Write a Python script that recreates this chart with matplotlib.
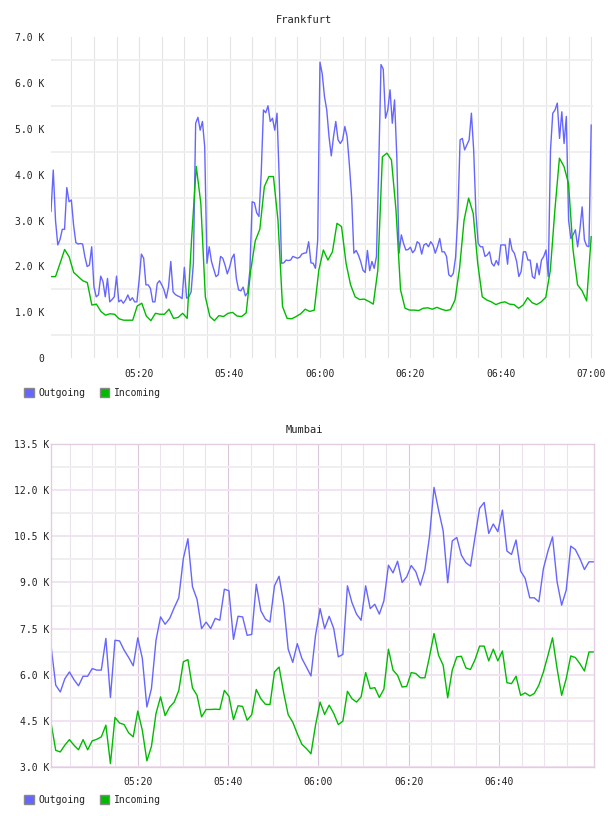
import numpy as np
import matplotlib
matplotlib.use('Agg')
import matplotlib.pyplot as plt
from matplotlib.patches import Patch

# minutes after 05:00
time_ticks = [20, 40, 60, 80, 100, 120]
time_labels = ['05:20', '05:40', '06:00', '06:20', '06:40', '07:00']

# Frankfurt, K per sample (outgoing every 30 s, incoming every minute)
fra_out = [
    3.2, 4.1, 3.0, 2.47, 2.59, 2.81, 2.81, 3.72, 3.41, 3.45,
    2.90, 2.52, 2.49, 2.50, 2.49, 2.21, 2.00, 2.03, 2.43, 1.56,
    1.34, 1.38, 1.79, 1.67, 1.34, 1.74, 1.23, 1.28, 1.34, 1.79,
    1.23, 1.27, 1.20, 1.27, 1.38, 1.26, 1.32, 1.23, 1.23, 1.71,
    2.27, 2.18, 1.60, 1.60, 1.52, 1.23, 1.23, 1.63, 1.69, 1.60,
    1.49, 1.31, 1.56, 2.11, 1.45, 1.39, 1.36, 1.34, 1.30, 1.98,
    1.31, 1.34, 1.45, 2.07, 5.12, 5.25, 4.97, 5.16, 4.61, 2.07,
    2.43, 2.11, 1.94, 1.78, 1.82, 2.22, 2.18, 2.03, 1.84, 1.98,
    2.18, 2.27, 1.74, 1.49, 1.47, 1.55, 1.36, 1.43, 1.92, 3.41,
    3.39, 3.17, 3.09, 4.03, 5.41, 5.35, 5.50, 5.16, 5.23, 4.97,
    5.34, 3.88, 2.07, 2.08, 2.14, 2.13, 2.14, 2.22, 2.20, 2.18,
    2.20, 2.27, 2.29, 2.30, 2.54, 2.08, 2.07, 1.96, 2.58, 6.45,
    6.20, 5.70, 5.41, 4.83, 4.41, 4.83, 5.16, 4.76, 4.68, 4.76,
    5.05, 4.83, 4.23, 3.52, 2.29, 2.35, 2.25, 2.11, 1.92, 1.87,
    2.35, 1.91, 2.11, 1.96, 2.22, 4.18, 6.40, 6.30, 5.23, 5.41,
    5.85, 5.12, 5.63, 4.39, 2.29, 2.69, 2.50, 2.36, 2.37, 2.42,
    2.30, 2.36, 2.54, 2.50, 2.27, 2.47, 2.50, 2.43, 2.54, 2.47,
    2.29, 2.43, 2.61, 2.32, 2.32, 2.22, 1.82, 1.78, 1.85, 2.20,
    3.09, 4.76, 4.79, 4.54, 4.65, 4.76, 5.34, 4.54, 3.16, 2.50,
    2.43, 2.43, 2.22, 2.25, 2.32, 2.07, 2.01, 2.13, 2.03, 2.47,
    2.47, 2.47, 2.05, 2.61, 2.36, 2.29, 2.11, 1.78, 1.89, 2.32,
    2.32, 2.14, 2.14, 1.78, 1.74, 2.07, 1.82, 2.14, 2.22, 2.36,
    1.78, 4.54, 5.34, 5.41, 5.56, 4.79, 5.37, 4.68, 5.27, 3.01,
    2.61, 2.69, 2.80, 2.43, 2.80, 3.30, 2.58, 2.45, 2.43, 5.08,
]
fra_in = [
    1.78, 1.78, 2.07, 2.37, 2.21, 1.87, 1.78, 1.69, 1.65, 1.16,
    1.18, 1.02, 0.94, 0.97, 0.96, 0.86, 0.83, 0.83, 0.83, 1.14,
    1.20, 0.92, 0.82, 0.98, 0.96, 0.96, 1.07, 0.87, 0.89, 0.98,
    0.87, 2.65, 4.18, 3.38, 1.34, 0.91, 0.82, 0.93, 0.91, 0.98,
    1.00, 0.92, 0.91, 0.99, 1.92, 2.56, 2.81, 3.74, 3.96, 3.96,
    3.01, 1.13, 0.87, 0.86, 0.91, 0.97, 1.07, 1.02, 1.05, 1.92,
    2.36, 2.14, 2.32, 2.94, 2.87, 2.07, 1.60, 1.34, 1.28, 1.29,
    1.24, 1.18, 1.92, 4.39, 4.47, 4.32, 3.23, 1.49, 1.09, 1.05,
    1.05, 1.04, 1.09, 1.10, 1.07, 1.11, 1.07, 1.04, 1.06, 1.27,
    1.96, 3.01, 3.49, 3.16, 2.07, 1.34, 1.27, 1.23, 1.17, 1.21,
    1.23, 1.18, 1.17, 1.09, 1.16, 1.32, 1.21, 1.17, 1.23, 1.33,
    1.92, 3.23, 4.36, 4.18, 3.81, 2.36, 1.60, 1.47, 1.25, 2.65,
]

# Mumbai, K per minute
mum_out = [
    6.90, 5.66, 5.44, 5.87, 6.09, 5.84, 5.64, 5.95, 5.95, 6.20,
    6.15, 6.15, 7.18, 5.26, 7.12, 7.10, 6.80, 6.56, 6.29, 7.20,
    6.53, 4.95, 5.55, 7.12, 7.88, 7.64, 7.83, 8.18, 8.50, 9.78,
    10.42, 8.86, 8.45, 7.50, 7.71, 7.50, 7.83, 7.77, 8.78, 8.73,
    7.15, 7.90, 7.88, 7.28, 7.31, 8.94, 8.08, 7.81, 7.71, 8.89,
    9.20, 8.32, 6.83, 6.40, 7.01, 6.53, 6.25, 5.96, 7.28, 8.15,
    7.50, 7.90, 7.50, 6.58, 6.66, 8.89, 8.34, 7.97, 7.77, 8.89,
    8.15, 8.29, 7.97, 8.40, 9.56, 9.31, 9.69, 9.00, 9.18, 9.55,
    9.35, 8.91, 9.42, 10.48, 12.09, 11.35, 10.68, 8.99, 10.35, 10.46,
    9.89, 9.64, 9.53, 10.48, 11.41, 11.60, 10.59, 10.90, 10.65, 11.35,
    10.02, 9.91, 10.38, 9.37, 9.13, 8.50, 8.50, 8.37, 9.45, 10.02,
    10.48, 9.02, 8.26, 8.75, 10.18, 10.07, 9.78, 9.42, 9.67, 9.67,
]
mum_in = [
    4.41, 3.54, 3.49, 3.71, 3.89, 3.71, 3.56, 3.89, 3.56, 3.85,
    3.90, 3.98, 4.36, 3.11, 4.61, 4.43, 4.38, 4.11, 3.98, 4.82,
    4.19, 3.20, 3.67, 4.74, 5.28, 4.67, 4.95, 5.11, 5.49, 6.42,
    6.49, 5.57, 5.33, 4.63, 4.87, 4.87, 4.88, 4.87, 5.49, 5.30,
    4.54, 4.99, 4.97, 4.52, 4.70, 5.52, 5.22, 5.04, 5.03, 6.09,
    6.25, 5.42, 4.70, 4.46, 4.08, 3.74, 3.60, 3.43, 4.36, 5.11,
    4.71, 5.01, 4.74, 4.38, 4.49, 5.46, 5.22, 5.11, 5.28, 6.07,
    5.55, 5.58, 5.26, 5.53, 6.83, 6.15, 5.98, 5.60, 5.62, 6.07,
    6.04, 5.90, 5.90, 6.58, 7.34, 6.63, 6.31, 5.25, 6.15, 6.58,
    6.60, 6.22, 6.17, 6.49, 6.93, 6.93, 6.45, 6.83, 6.45, 6.77,
    5.74, 5.71, 5.95, 5.33, 5.41, 5.31, 5.39, 5.66, 6.09, 6.63,
    7.20, 6.20, 5.33, 5.87, 6.61, 6.56, 6.36, 6.12, 6.74, 6.74,
]

fra_out_t = 0.5 + 0.5 * np.arange(len(fra_out))
fra_in_t = np.linspace(0.5, 120, len(fra_in))
mum_t = np.linspace(0.85, 120.95, len(mum_out))

BLUE = '#6666ff'
GREEN = '#00bb00'
TXT = '#222222'

plt.rcParams['font.family'] = 'DejaVu Sans Mono'
plt.rcParams['font.size'] = 7

W, H = 608, 816
fig = plt.figure(figsize=(W / 100, H / 100), dpi=100)


def px_axes(left, top, right, bottom):
    return fig.add_axes([left / W, 1 - bottom / H, (right - left) / W, (bottom - top) / H])


def legend_at(y):
    handles = [Patch(facecolor=BLUE, edgecolor='#888888', label='Outgoing'),
               Patch(facecolor=GREEN, edgecolor='#888888', label='Incoming')]
    fig.legend(handles=handles, loc='center left', bbox_to_anchor=(24 / W, 1 - y / H),
               ncol=2, frameon=False, handlelength=1.0, handleheight=1.0,
               handletextpad=0.45, columnspacing=1.5, borderpad=0, borderaxespad=0,
               labelcolor=TXT)


# ---- Frankfurt
ax1 = px_axes(51, 37, 593, 358.3)
ax1.plot(fra_out_t, fra_out, color=BLUE, lw=1.0)
ax1.plot(fra_in_t, fra_in, color=GREEN, lw=1.0)
ax1.set_xlim(0.5, 120.4)
ax1.set_ylim(0, 7)
ax1.set_xticks(time_ticks, time_labels)
ax1.set_xticks(np.arange(5, 121, 5), minor=True)
ax1.set_yticks(range(8), ['0'] + [f'{v:.1f} K' for v in range(1, 8)])
ax1.set_yticks(np.arange(0.5, 7, 1.0), minor=True)
ax1.grid(axis='x', which='both', color='#e4e4e4', lw=0.8)
ax1.grid(axis='y', which='minor', color='#efefef', lw=1.4)
for s in ax1.spines.values():
    s.set_visible(False)
ax1.tick_params(which='both', length=0, labelcolor=TXT)
ax1.tick_params(axis='x', pad=8)
ax1.tick_params(axis='y', pad=5)
ax1.set_axisbelow(True)
fig.text(0.5, 1 - 20 / H, 'Frankfurt', ha='center', va='center', color=TXT, fontsize=7.5)
legend_at(393)

# ---- Mumbai
ax2 = px_axes(50.5, 444, 594, 767)
ax2.plot(mum_t, mum_out, color=BLUE, lw=1.0)
ax2.plot(mum_t, mum_in, color=GREEN, lw=1.0)
ax2.set_xlim(0.7, 121.05)
ax2.set_ylim(3, 13.5)
ax2.set_xticks(time_ticks[:-1], time_labels[:-1])
ax2.set_xticks(np.arange(5, 116, 5), minor=True)
yt = np.arange(3, 13.6, 1.5)
ax2.set_yticks(yt, [f'{v:.1f} K' for v in yt])
ax2.set_yticks(yt[:-1] + 0.75, minor=True)
ax2.grid(axis='x', which='major', color='#dcc6dc', lw=0.8)
ax2.grid(axis='x', which='minor', color='#ebe2eb', lw=0.8)
ax2.grid(axis='y', which='major', color='#f1e3f1', lw=1.4)
ax2.grid(axis='y', which='minor', color='#efefef', lw=1.4)
for s in ax2.spines.values():
    s.set_color('#e2cce2')
    s.set_linewidth(1.0)
ax2.tick_params(which='both', length=0, labelcolor=TXT)
ax2.tick_params(axis='x', pad=7)
ax2.tick_params(axis='y', pad=1)
ax2.set_axisbelow(True)
fig.text(0.5, 1 - 430 / H, 'Mumbai', ha='center', va='center', color=TXT, fontsize=7.5)
legend_at(800)

fig.savefig('out.png', dpi=100)
